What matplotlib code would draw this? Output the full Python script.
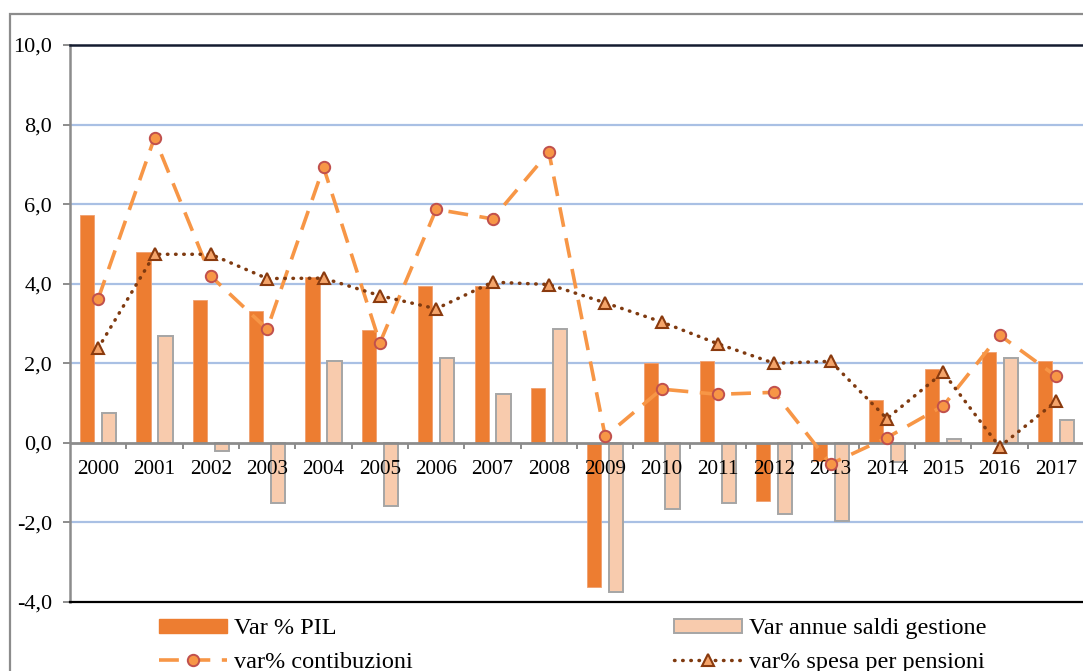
import matplotlib
matplotlib.use("Agg")
import matplotlib.pyplot as plt
import numpy as np
from matplotlib.patches import Rectangle, Patch
import matplotlib.transforms as mtrans

years = ["2000", "2001", "2002", "2003", "2004", "2005", "2006", "2007", "2008",
         "2009", "2010", "2011", "2012", "2013", "2014", "2015", "2016", "2017"]
var_pil = [5.73, 4.80, 3.59, 3.32, 4.17, 2.84, 3.94, 3.95, 1.39,
           -3.62, 2.00, 2.05, -1.47, -0.46, 1.08, 1.86, 2.28, 2.07]
var_saldi = [0.75, 2.69, -0.20, -1.50, 2.05, -1.59, 2.13, 1.24, 2.86,
             -3.74, -1.67, -1.50, -1.80, -1.96, -0.48, 0.10, 2.13, 0.57]
var_contrib = [3.62, 7.67, 4.19, 2.86, 6.93, 2.51, 5.87, 5.63, 7.31,
               0.16, 1.35, 1.22, 1.27, -0.53, 0.13, 0.93, 2.71, 1.68]
var_spesa = [2.38, 4.74, 4.74, 4.13, 4.14, 3.70, 3.37, 4.04, 3.98,
             3.52, 3.04, 2.49, 2.00, 2.05, 0.61, 1.77, -0.10, 1.04]
yticks = [-4, -2, 0, 2, 4, 6, 8, 10]
ytick_labels = ["-4,0", "-2,0", "0,0", "2,0", "4,0", "6,0", "8,0", "10,0"]
legend_labels = ["Var % PIL", "Var annue saldi gestione",
                 "var% contibuzioni", "var% spesa per pensioni"]

plt.rcParams['font.family'] = ['Liberation Serif', 'DejaVu Serif']

W, H = 1083, 671
fig = plt.figure(figsize=(W / 100, H / 100), dpi=100)
fig.patch.set_facecolor("white")

# outer chart border (extends past the right/bottom edge)
fig.patches.append(Rectangle((10 / W, -0.1), 1.2, 1 - 14 / H + 0.1,
                             transform=fig.transFigure, fill=False,
                             edgecolor="#8c8c8c", lw=1.6, clip_on=False))

ax = fig.add_axes([70 / W, 1 - 602 / H, 1 - 70 / W + 0.001, (602 - 45) / H])
x = np.arange(len(years))
ax.set_xlim(-0.5, len(years) - 0.5)
ax.set_ylim(-4, 10)

# gridlines
for t in [-2, 2, 4, 6, 8]:
    ax.axhline(t, color="#a9c0e4", lw=1.6, zorder=0.5)

bw = 0.25
off = 0.195
ax.bar(x - off, var_pil, width=bw, color="#ed7d31", edgecolor="#f0a070",
       lw=0.6, zorder=2)
ax.bar(x + off, var_saldi, width=bw, color="#f8cbad", edgecolor="#a5a5a5",
       lw=1.4, zorder=2)

# zero axis line with tick marks at category boundaries
ax.axhline(0, color="#8c8c8c", lw=2, zorder=2.5)
tick_len = 6 / 39.8
for b in np.arange(len(years) - 1) + 0.5:
    ax.plot([b, b], [0, -tick_len], color="#8c8c8c", lw=1.4, zorder=2.5,
            solid_capstyle="butt")

# year labels below the zero line
trans = mtrans.offset_copy(ax.transData, fig=fig, x=0, y=-27, units="dots")
for xi, yl in zip(x, years):
    ax.text(xi, 0, yl, transform=trans, ha="center", va="center",
            fontsize=15.2, color="black", zorder=2.6)

l1, = ax.plot(x, var_contrib, color="#f79646", lw=2.6, dashes=(5.5, 3.2),
              marker="o", ms=8.2, mfc="#f79646", mec="#c0504d", mew=1.4,
              zorder=3)
l2, = ax.plot(x, var_spesa, color="#7f3a10", lw=2.5, linestyle=(0, (0.15, 2.2)),
              dash_capstyle="round", marker="^", ms=8.8, mfc="#f4a46a",
              mec="#8a3a0e", mew=1.5, zorder=3.1)

# spines
ax.spines["right"].set_visible(False)
ax.spines["top"].set_color("#141c30")
ax.spines["top"].set_linewidth(1.8)
ax.spines["bottom"].set_color("black")
ax.spines["bottom"].set_linewidth(1.6)
ax.spines["left"].set_color("#8c8c8c")
ax.spines["left"].set_linewidth(1.8)

ax.set_xticks([])
ax.set_yticks(yticks)
ax.set_yticklabels(ytick_labels, fontsize=16)
ax.tick_params(axis="y", length=5, width=1.4, color="#8c8c8c", pad=8)

# legend
h_pil = Patch(facecolor="#ed7d31", edgecolor="#ed7d31")
h_sal = Patch(facecolor="#f8cbad", edgecolor="#a5a5a5", lw=1.4)
leg_kw = dict(frameon=False, fontsize=17.5, handlelength=2.8, handleheight=0.5,
              handletextpad=0.3, labelspacing=0.5, borderaxespad=0,
              borderpad=0, loc="center left")
leg1 = fig.legend([h_pil, l1], [legend_labels[0], legend_labels[2]],
                  bbox_to_anchor=(159 / W, 1 - 645.5 / H), **leg_kw)
leg2 = fig.legend([h_sal, l2], [legend_labels[1], legend_labels[3]],
                  bbox_to_anchor=(674 / W, 1 - 645.5 / H), **leg_kw)

fig.savefig("out.png", dpi=100, facecolor="white")
